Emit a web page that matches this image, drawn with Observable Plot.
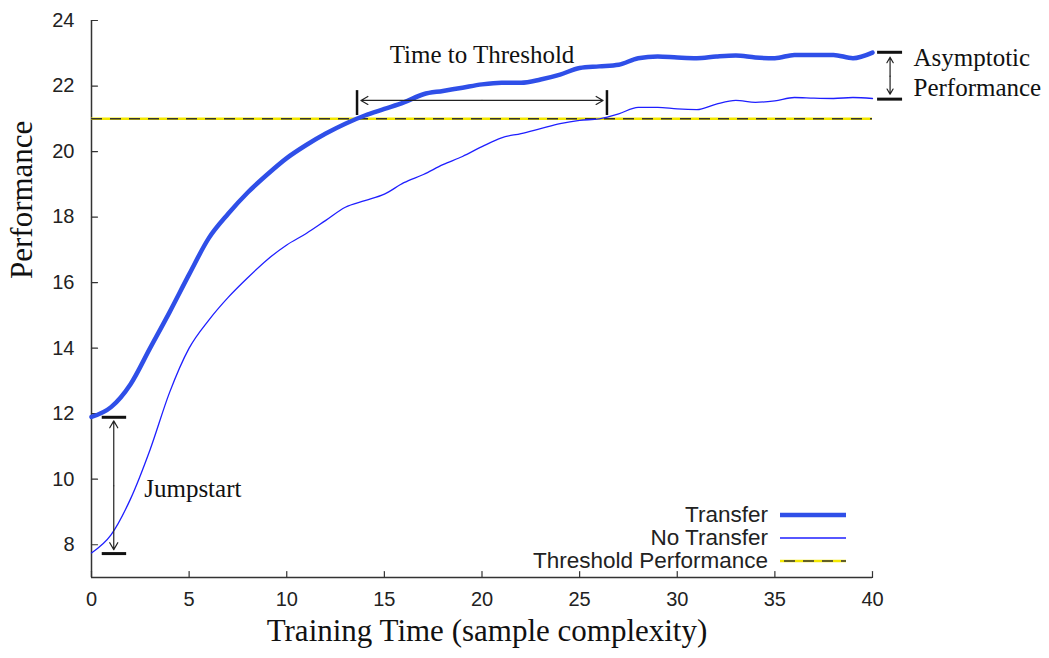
<!DOCTYPE html>
<html>
<head>
<meta charset="utf-8">
<script src="https://cdn.jsdelivr.net/npm/d3@7"></script>
<script src="https://cdn.jsdelivr.net/npm/@observablehq/plot@0.6"></script>
<style>
  html, body { margin: 0; padding: 0; background: #fff; }
  #wrap { position: relative; width: 1049px; height: 658px; }
  #legend { position: absolute; left: 0; top: 503px; width: 846px; font-family: "Liberation Sans", Arial, sans-serif; font-size: 22.5px; color: #222; }
  #legend .row { display: flex; justify-content: flex-end; align-items: center; height: 23px; line-height: 23px; }
  #legend .row span { margin-right: 12px; }
</style>
</head>
<body>
<div id="wrap"></div>
<script>
// ---- Data ----
const trainingTime = [0,1,2,3,4,5,6,7,8,9,10,11,12,13,14,15,16,17,18,19,20,21,22,23,24,25,26,27,28,29,30,31,32,33,34,35,36,37,38,39,40];
const transferPerf = [11.9,12.2,12.9,14.0,15.1,16.25,17.35,18.1,18.75,19.3,19.8,20.2,20.55,20.85,21.1,21.3,21.5,21.75,21.85,21.95,22.05,22.1,22.1,22.2,22.35,22.55,22.6,22.65,22.85,22.9,22.87,22.85,22.9,22.93,22.87,22.85,22.95,22.95,22.95,22.85,23.02];
const noTransferPerf = [7.75,8.3,9.4,10.9,12.65,14.0,14.85,15.55,16.15,16.7,17.15,17.5,17.9,18.3,18.5,18.7,19.05,19.3,19.6,19.85,20.15,20.42,20.55,20.7,20.85,20.95,21.0,21.15,21.35,21.35,21.3,21.28,21.45,21.56,21.5,21.55,21.65,21.63,21.62,21.65,21.62];
const thresholdPerf = 21;

const xTicks = [0,5,10,15,20,25,30,35,40];
const yTicks = [8,10,12,14,16,18,20,22,24];
const xDomain = [0, 40];
const yDomain = [7, 24];

const xLabel = "Training Time (sample complexity)";
const yLabel = "Performance";
const seriesNames = ["Transfer", "No Transfer", "Threshold Performance"];

// annotation anchors (data units)
const timeBarsX = [13.6, 26.4];
const timeBarsY = [21.1, 21.86];
const timeArrow = {y: 21.56, x1: 13.8, x2: 26.2, mid: 20};
const timeText = {x: 20.0, y: 22.95, text: "Time to Threshold"};

const asymBarsY = [23.03, 21.6];
const asymBarsX = [40.26, 41.54];
const asymArrow = {x: 40.9, y1: 22.88, y2: 21.75, mid: 22.3};
const asymText = [{x: 42.1, y: 22.85, text: "Asymptotic"}, {x: 42.1, y: 21.93, text: "Performance"}];

const jumpBarsY = [11.89, 7.73];
const jumpBarsX = [0.55, 1.8];
const jumpArrow = {x: 1.14, y1: 11.78, y2: 7.85, mid: 9.8};
const jumpText = {x: 2.7, y: 9.7, text: "Jumpstart"};

// ---- Build ----
const transferData = trainingTime.map((t, i) => ({t, v: transferPerf[i]}));
const noTransferData = trainingTime.map((t, i) => ({t, v: noTransferPerf[i]}));

const transferColor = "#2f4fe8";
const noTransferColor = "#1f1fff";
const tickShape = {draw(context, l) { context.moveTo(0, 0); context.lineTo(0, -l); }};
const serif = "'Liberation Serif', 'Times New Roman', serif";

const chart = Plot.plot({
  width: 1049,
  height: 658,
  marginLeft: 91,
  marginRight: 177,
  marginTop: 20,
  marginBottom: 81,
  x: {domain: xDomain, axis: null},
  y: {domain: yDomain, axis: null},
  style: {fontFamily: "'Liberation Sans', Arial, sans-serif", background: "white", overflow: "visible"},
  marks: [
    // axis lines
    Plot.ruleX([xDomain[0]], {stroke: "#333", strokeWidth: 1.5}),
    Plot.ruleY([yDomain[0]], {stroke: "#333", strokeWidth: 1.5}),
    // inward ticks
    Plot.vector(yTicks, {y: d => d, frameAnchor: "left", length: 6, rotate: 90, anchor: "start", shape: tickShape, stroke: "#333", strokeWidth: 1.2}),
    Plot.vector(xTicks, {x: d => d, frameAnchor: "bottom", length: 6, rotate: 0, anchor: "start", shape: tickShape, stroke: "#333", strokeWidth: 1.2}),
    // tick labels
    Plot.axisY(yTicks, {anchor: "left", tickSize: 0, tickPadding: 17, label: null, fontSize: 20, fill: "#222"}),
    Plot.axisX(xTicks, {anchor: "bottom", tickSize: 0, tickPadding: 14, label: null, fontSize: 20, fill: "#222"}),
    // axis titles
    Plot.text([xLabel], {frameAnchor: "bottom", dy: 63, dx: 5, fontFamily: serif, fontSize: 31, fill: "#111"}),
    Plot.text([yLabel], {frameAnchor: "left", rotate: -90, dx: -69, dy: -20, fontFamily: serif, fontSize: 31, fill: "#111"}),
    // threshold
    Plot.ruleY([thresholdPerf], {stroke: "#f4e800", strokeWidth: 2.5}),
    Plot.ruleY([thresholdPerf], {stroke: "#333", strokeWidth: 1.6, strokeDasharray: "11,8"}),
    // series
    Plot.line(noTransferData, {x: "t", y: "v", stroke: noTransferColor, strokeWidth: 1.3, curve: "monotone-x"}),
    Plot.line(transferData, {x: "t", y: "v", stroke: transferColor, strokeWidth: 4.5, curve: "monotone-x"}),
    // time to threshold
    Plot.ruleX(timeBarsX, {y1: timeBarsY[0], y2: timeBarsY[1], stroke: "#111", strokeWidth: 2.5}),
    Plot.arrow([timeArrow], {x1: "mid", x2: "x1", y1: "y", y2: "y", stroke: "#222", strokeWidth: 1.2, headLength: 10}),
    Plot.arrow([timeArrow], {x1: "mid", x2: "x2", y1: "y", y2: "y", stroke: "#222", strokeWidth: 1.2, headLength: 10}),
    Plot.text([timeText], {x: "x", y: "y", text: "text", fontFamily: serif, fontSize: 25, fill: "#111"}),
    // asymptotic performance
    Plot.ruleY(asymBarsY, {x1: asymBarsX[0], x2: asymBarsX[1], stroke: "#111", strokeWidth: 3}),
    Plot.arrow([asymArrow], {x1: "x", x2: "x", y1: "mid", y2: "y1", stroke: "#222", strokeWidth: 1.2, headLength: 10}),
    Plot.arrow([asymArrow], {x1: "x", x2: "x", y1: "mid", y2: "y2", stroke: "#222", strokeWidth: 1.2, headLength: 10}),
    Plot.text(asymText, {x: "x", y: "y", text: "text", textAnchor: "start", fontFamily: serif, fontSize: 25, fill: "#111"}),
    // jumpstart
    Plot.ruleY(jumpBarsY, {x1: jumpBarsX[0], x2: jumpBarsX[1], stroke: "#111", strokeWidth: 3}),
    Plot.arrow([jumpArrow], {x1: "x", x2: "x", y1: "mid", y2: "y1", stroke: "#222", strokeWidth: 1.2, headLength: 10}),
    Plot.arrow([jumpArrow], {x1: "x", x2: "x", y1: "mid", y2: "y2", stroke: "#222", strokeWidth: 1.2, headLength: 10}),
    Plot.text([jumpText], {x: "x", y: "y", text: "text", textAnchor: "start", fontFamily: serif, fontSize: 25, fill: "#111"})
  ]
});

const wrap = document.getElementById("wrap");
wrap.appendChild(chart);

// legend
const legend = document.createElement("div");
legend.id = "legend";
const swatches = [
  `<line x1="0" y1="6" x2="66" y2="6" stroke="${transferColor}" stroke-width="4.5"/>`,
  `<line x1="0" y1="6" x2="66" y2="6" stroke="${noTransferColor}" stroke-width="1.3"/>`,
  `<line x1="0" y1="6" x2="66" y2="6" stroke="#f4e800" stroke-width="2.5"/><line x1="0" y1="6" x2="66" y2="6" stroke="#333" stroke-width="1.6" stroke-dasharray="11,8" stroke-dashoffset="-4"/>`
];
seriesNames.forEach((name, i) => {
  const row = document.createElement("div");
  row.className = "row";
  row.innerHTML = `<span>${name}</span><svg width="66" height="12">${swatches[i]}</svg>`;
  legend.appendChild(row);
});
wrap.appendChild(legend);
</script>
</body>
</html>
